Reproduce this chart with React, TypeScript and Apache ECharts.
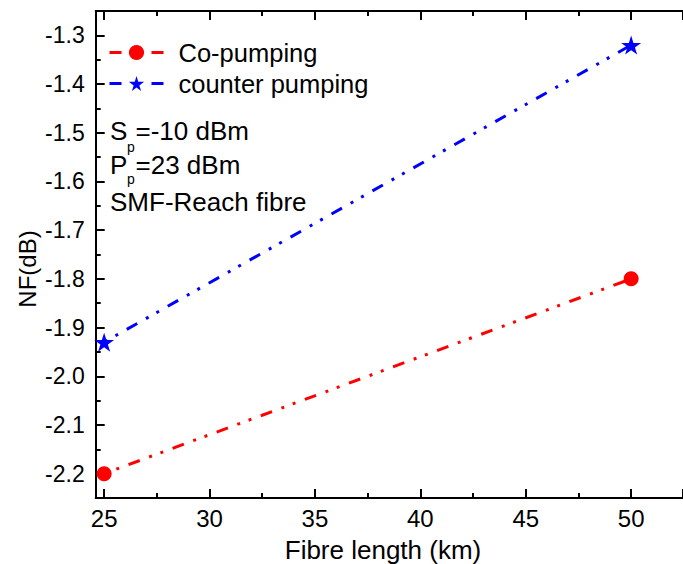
import React, { useEffect, useRef } from "react";
import * as echarts from "echarts";

const fibreLength = [25, 50];
const coPumping = [-2.2, -1.8];
const counterPumping = [-1.93, -1.32];
const seriesNames = ["Co-pumping", "counter pumping"];
const annotationValues = ["=-10 dBm", "=23 dBm", "SMF-Reach fibre"];

const FONT = "Liberation Sans, Arial, sans-serif";
const STAR = "path://M50,0 L61,35 L98,35 L68,57 L79,91 L50,70 L21,91 L32,57 L2,35 L39,35 Z";

export default function App() {
  const ref = useRef<HTMLDivElement>(null);
  useEffect(() => {
    if (!ref.current) return;
    const chart = echarts.init(ref.current, null, { renderer: "svg" });
    const dash = [12, 10, 3, 9, 3, 10];
    const axisCommon = {
      axisLine: { show: true, lineStyle: { color: "#000", width: 2 } },
      axisTick: { show: true, inside: true, length: 9, lineStyle: { color: "#000", width: 2 } },
      minorTick: { show: true, splitNumber: 2, length: 5, lineStyle: { color: "#000", width: 2 } },
      splitLine: { show: false },
    };
    const txt = (text: string, x: number, y: number, size: number, lh?: number) => ({
      type: "text",
      x,
      y,
      style: { text, fontSize: size, fontFamily: FONT, fill: "#000", verticalAlign: "middle", lineHeight: lh },
    });
    chart.setOption({
      animation: false,
      backgroundColor: "#fff",
      grid: { left: 95.7, right: -10, top: 11, bottom: 66 },
      xAxis: [
        {
          type: "value",
          min: 24.6,
          max: 52.46,
          splitNumber: 5,
          ...axisCommon,
          axisLabel: {
            color: "#000",
            fontSize: 24,
            fontFamily: FONT,
            margin: 8,
            showMinLabel: false,
            showMaxLabel: false,
          },
        },
        {
          type: "value",
          position: "top",
          min: 24.6,
          max: 52.46,
          splitNumber: 5,
          ...axisCommon,
          axisLabel: { show: false },
        },
      ],
      yAxis: {
        type: "value",
        min: -2.25,
        max: -1.25,
        splitNumber: 10,
        ...axisCommon,
        axisLabel: {
          color: "#000",
          fontSize: 23,
          fontFamily: FONT,
          margin: 11,
          showMinLabel: false,
          showMaxLabel: false,
          formatter: (v: number) => v.toFixed(1),
        },
      },
      legend: {
        orient: "vertical",
        left: 108,
        top: 39.5,
        padding: 0,
        itemWidth: 54,
        itemHeight: 19,
        itemGap: 5,
        data: seriesNames,
        lineStyle: { type: [12, 30, 12], width: 3, dashOffset: 0 },
        textStyle: {
          color: "#000",
          fontSize: 25.5,
          fontFamily: FONT,
          padding: [0, 0, 0, 10],
        },
      },
      series: [
        {
          name: seriesNames[0],
          type: "line",
          data: fibreLength.map((x, i) => [x, coPumping[i]]),
          symbol: "circle",
          symbolSize: 15,
          itemStyle: { color: "#ff0000" },
          lineStyle: { color: "#ff0000", width: 3, type: dash, dashOffset: 21 },
        },
        {
          name: seriesNames[1],
          type: "line",
          data: fibreLength.map((x, i) => [x, counterPumping[i]]),
          symbol: STAR,
          symbolSize: [20, 19],
          itemStyle: { color: "#0000ff" },
          lineStyle: { color: "#0000ff", width: 3, type: dash, dashOffset: 21 },
        },
      ],
      graphic: [
        txt("S", 110, 131, 26),
        txt("p", 127, 146.5, 14, 10),
        txt(annotationValues[0], 135.5, 131, 26),
        txt("P", 110, 164.5, 26),
        txt("p", 127, 178.5, 14, 10),
        txt(annotationValues[1], 135.5, 164.5, 26),
        txt(annotationValues[2], 110, 201.5, 26),
        {
          type: "text",
          x: 27,
          y: 269,
          rotation: Math.PI / 2,
          style: { text: "NF(dB)", fontSize: 24, fontFamily: FONT, fill: "#000", align: "center", verticalAlign: "middle" },
        },
        {
          type: "text",
          x: 383,
          y: 550,
          style: { text: "Fibre length (km)", fontSize: 26, fontFamily: FONT, fill: "#000", align: "center", verticalAlign: "middle" },
        },
      ],
    });
    return () => chart.dispose();
  }, []);
  return (
    <div
      ref={ref}
      style={{ position: "absolute", left: 0, top: 0, width: 683, height: 564 }}
    />
  );
}
